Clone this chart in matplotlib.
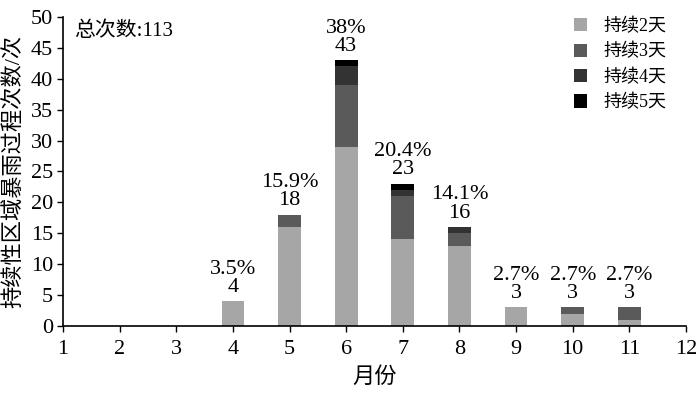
import numpy as np
import matplotlib.pyplot as plt

plt.rcParams['font.family'] = ['Liberation Serif', 'Noto Sans CJK SC']
plt.rcParams['font.size'] = 16

months = [4, 5, 6, 7, 8, 9, 10, 11]
d2 = [4, 16, 29, 14, 13, 3, 2, 1]
d3 = [0, 2, 10, 7, 2, 0, 1, 2]
d4 = [0, 0, 3, 1, 1, 0, 0, 0]
d5 = [0, 0, 1, 1, 0, 0, 0, 0]
pct = ['3.5%', '15.9%', '38%', '20.4%', '14.1%', '2.7%', '2.7%', '2.7%']
names = ['持续2天', '持续3天', '持续4天', '持续5天']
colors = ['#a6a6a6', '#5a5a5a', '#333333', '#000000']

fig = plt.figure(figsize=(7, 3.96), dpi=100)
ax = fig.add_axes([0.09, 0.177, 0.89, 0.78])

bottom = np.zeros(len(months))
for vals, name, c in zip([d2, d3, d4, d5], names, colors):
    ax.bar(months, vals, width=0.4, bottom=bottom, color=c, label=name)
    bottom += np.array(vals)

for m, tot, p in zip(months, bottom, pct):
    ax.text(m, tot + 0.7, p + '\n' + str(int(tot)), ha='center', va='bottom',
            fontsize=16, linespacing=0.95)

ax.text(1.2, 47.7, '总次数:113', ha='left', va='center', fontsize=15)

ax.set_xlim(1, 12)
ax.set_ylim(0, 50)
ax.set_xticks(range(1, 13))
ax.set_yticks(range(0, 51, 5))
ax.spines['top'].set_visible(False)
ax.spines['right'].set_visible(False)
ax.spines['left'].set_linewidth(1.2)
ax.spines['bottom'].set_linewidth(1.2)
ax.tick_params(direction='out', length=4, width=1, labelsize=16, pad=3)
ax.tick_params(axis='x', pad=6)
ax.set_xlabel('月份', fontsize=16, labelpad=6)
ax.set_ylabel('持续性区域暴雨过程次数/次', fontsize=16, labelpad=5)

ax.legend(loc='upper right', frameon=False, handlelength=0.75, handleheight=0.75,
          handletextpad=0.9, labelspacing=0.45, fontsize=13,
          bbox_to_anchor=(0.995, 1.05))

fig.savefig('out.png', dpi=100)
